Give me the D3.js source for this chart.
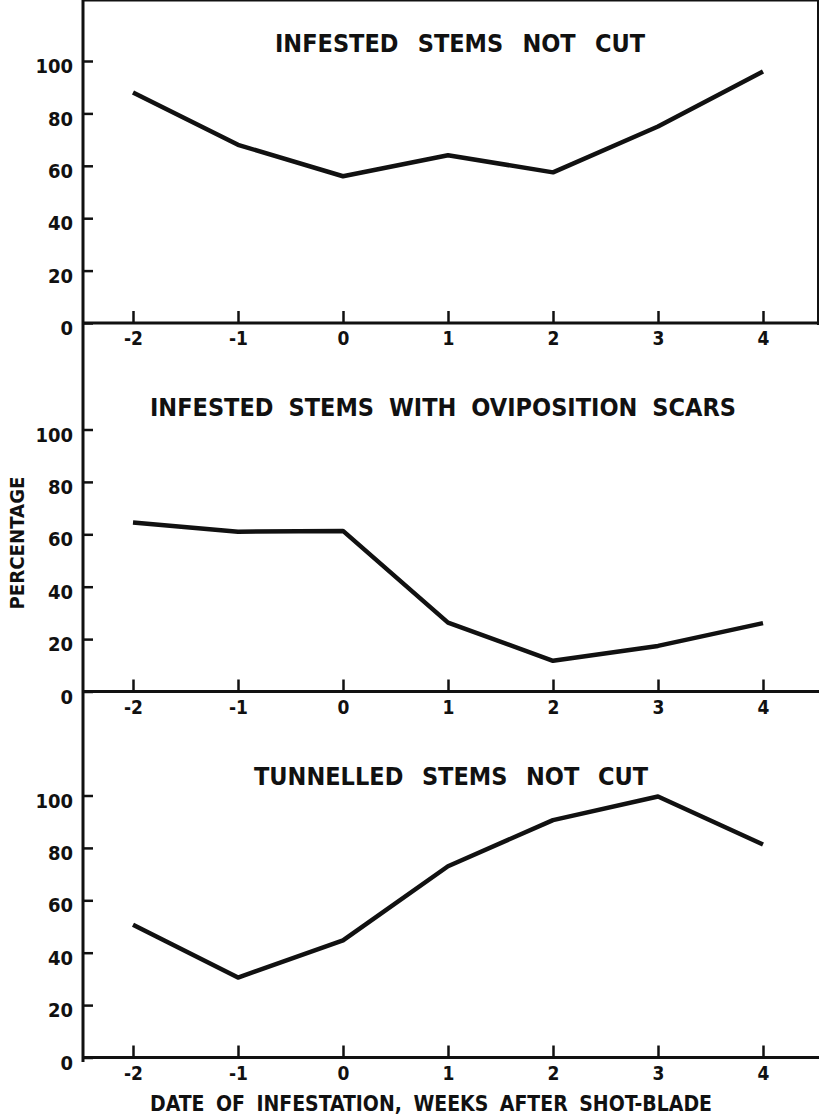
<!DOCTYPE html>
<meta charset="utf-8">
<style>
body { margin: 0; background: #fff; }
svg { display: block; }
text { font-family: "DejaVu Sans Condensed", "Liberation Sans Narrow", sans-serif; font-weight: bold; fill: #111; }
</style>
<svg width="819" height="1117"></svg>
<script src="https://d3js.org/d3.v7.min.js"></script>
<script>

var weeks = [-2, -1, 0, 1, 2, 3, 4];
var notCut = [88, 68, 56, 64, 57.5, 75, 96];
var ovipScars = [64.5, 61, 61.3, 26.3, 11.7, 17.4, 26.1];
var tunnelled = [50.7, 30.5, 44.7, 73, 90.6, 99.6, 81.3];
var yTicks = [0, 20, 40, 60, 80, 100];
var titles = ["INFESTED STEMS NOT CUT", "INFESTED STEMS WITH OVIPOSITION SCARS", "TUNNELLED STEMS NOT CUT"];

var svg = d3.select("svg"),
    left = 83, right = 818, top = 5;

var x = d3.scaleLinear().domain([-2, 4]).range([133, 763]);

// zero line and title placement for each panel
var panels = [
  {values: notCut, zero: 323, title: titles[0], tx: 275, tw: 370, ty: 52},
  {values: ovipScars, zero: 691.5, title: titles[1], tx: 150, tw: 586, ty: 416},
  {values: tunnelled, zero: 1057.5, title: titles[2], tx: 254, tw: 394, ty: 785}
];

// stretch the gaps between words so a label spans the given width
function fitWords(t, w) {
  var n = t.text().split(" ").length - 1;
  var extra = w - t.node().getComputedTextLength();
  if (n > 0) t.style("word-spacing", (extra / n) + "px");
}

// frame: left axis, top line, right edge of top panel
svg.append("line").attr("x1", left).attr("x2", left).attr("y1", top).attr("y2", 1062)
    .attr("stroke", "#111").attr("stroke-width", 3);
svg.append("line").attr("x1", left).attr("x2", right).attr("y1", top).attr("y2", top)
    .attr("stroke", "#111").attr("stroke-width", 3);
svg.append("line").attr("x1", right).attr("x2", right).attr("y1", top).attr("y2", 325)
    .attr("stroke", "#111").attr("stroke-width", 2);

panels.forEach(function(p) {
  var y = d3.scaleLinear().domain([0, 100]).range([p.zero, p.zero - 262]);
  var g = svg.append("g");

  // y axis (ticks point inward)
  var ya = g.append("g").attr("transform", "translate(" + left + ",0)")
      .call(d3.axisLeft(y).tickValues(yTicks).tickSize(-10).tickPadding(10).tickFormat(String));
  ya.attr("font-family", null).attr("font-size", null);
  ya.select(".domain").remove();
  ya.selectAll(".tick line").attr("stroke", "#111").attr("stroke-width", 2.5);
  ya.selectAll(".tick text").attr("dy", "0.58em").style("font-size", "20px").attr("fill", "#111");

  // x axis line across the whole width
  g.append("line").attr("x1", left).attr("x2", 819).attr("y1", p.zero).attr("y2", p.zero)
      .attr("stroke", "#111").attr("stroke-width", 3);

  var xa = g.append("g").attr("transform", "translate(0," + p.zero + ")")
      .call(d3.axisBottom(x).tickValues(weeks).tickSize(-12).tickPadding(9).tickFormat(String));
  xa.attr("font-family", null).attr("font-size", null);
  xa.select(".domain").remove();
  xa.selectAll(".tick line").attr("stroke", "#111").attr("stroke-width", 2.5);
  xa.selectAll(".tick text").attr("fill", "#111").style("font-size", "19px");

  g.append("path")
      .datum(p.values)
      .attr("fill", "none")
      .attr("stroke", "#111")
      .attr("stroke-width", 4.5)
      .attr("stroke-linejoin", "round")
      .attr("d", d3.line().x(function(d, i) { return x(weeks[i]); }).y(function(d) { return y(d); }));

  var t = g.append("text")
      .attr("x", p.tx).attr("y", p.ty)
      .style("font-size", "25px")
      .text(p.title);
  fitWords(t, p.tw);
});

var xt = svg.append("text")
    .attr("x", 150).attr("y", 1111)
    .style("font-size", "21px")
    .text("DATE OF INFESTATION, WEEKS AFTER SHOT-BLADE");
fitWords(xt, 562);

svg.append("text")
    .attr("transform", "translate(24,543) rotate(-90)")
    .attr("text-anchor", "middle")
    .attr("textLength", 133).attr("lengthAdjust", "spacingAndGlyphs")
    .style("font-size", "19px")
    .text("PERCENTAGE");

</script>
